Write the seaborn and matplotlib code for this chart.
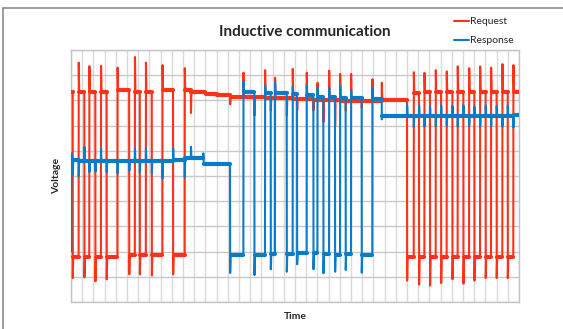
import matplotlib
matplotlib.use("Agg")
import matplotlib.pyplot as plt
from matplotlib.lines import Line2D
import pandas as pd
import seaborn as sns

# ---------------- data ----------------
SERIES = ["Request", "Response"]

# Request (red): edge times, segment levels (len = edges + 1), edge spike peaks
req_edges = [0.15, 0.68, 1.19, 1.63, 2.17, 2.67, 3.18, 4.15, 5.19, 5.70, 6.14, 6.68,
             7.21, 8.16, 9.11, 10.15, 10.7, 12.0, 13.0, 14.2, 15.39, 16.37, 17.32,
             17.83, 18.21, 19.26, 19.79, 20.18, 21.04, 21.64, 22.0, 22.53, 23.04,
             23.57, 24.02, 24.52, 25.0, 25.95, 26.9, 27.74, 30.0, 30.6, 31.07,
             31.55, 32.05, 32.56, 33.04, 33.54, 34.05, 34.52, 35.03, 35.54, 36.01,
             36.52, 37.02, 37.5, 38.0, 38.51, 38.99, 39.49]
req_levels = [8.35, 1.8, 8.35, 1.8, 8.35, 1.8, 8.35, 1.8, 8.4, 1.85, 8.35, 1.85,
              8.35, 1.85, 8.4, 1.85, 8.4, 8.35, 8.25, 8.2, 8.15, 8.15, 8.12, 8.1,
              8.1, 8.1, 8.08, 8.05, 8.05, 8.05, 8.03, 8.02, 8.0, 8.0, 8.0, 7.98,
              7.98, 7.97, 7.97, 7.96, 8.02, 1.8, 8.3, 1.8, 8.35, 1.8, 8.35, 1.8,
              8.35, 1.8, 8.35, 1.8, 8.35, 1.8, 8.35, 1.8, 8.35, 1.8, 8.35, 1.8,
              8.35]
req_spikes = [0.95, 9.5, 0.98, 9.36, 0.82, 9.37, 0.9, 9.3, 1.1, 9.72, 1.1, 9.5,
              1.05, 9.4, 1.1, 9.28, 7.5, 8.25, 8.2, 7.85, 9.1, 7.4, 9.2, 7.6, 8.9,
              7.4, 9.25, 7.6, 9.1, 7.6, 8.7, 7.15, 9.18, 6.96, 9.05, 7.6, 9.05,
              7.7, 8.84, 8.7, 0.85, 9.12, 0.69, 9.09, 0.65, 9.2, 0.75, 9.15, 0.9,
              9.35, 0.73, 9.28, 0.85, 9.35, 0.95, 9.3, 0.95, 9.44, 0.95, 9.4]

# Response (blue)
resp_edges = [0.02, 0.15, 0.68, 1.19, 1.63, 2.17, 2.67, 3.18, 4.15, 5.19, 5.70,
              6.14, 6.68, 7.21, 8.16, 9.11, 10.15, 10.7, 11.8, 14.2, 15.39, 16.37,
              17.32, 17.83, 18.21, 19.26, 19.79, 20.18, 21.04, 21.64, 22.0, 22.53,
              23.04, 23.57, 24.02, 24.52, 25.0, 25.95, 26.9, 27.74, 30.0, 30.6,
              31.07, 31.55, 32.05, 32.56, 33.04, 33.54, 34.05, 34.52, 35.03, 35.54,
              36.01, 36.52, 37.02, 37.5, 38.0, 38.51, 38.99, 39.49]
resp_levels = [2.0, 5.62, 5.62, 5.6, 5.6, 5.6, 5.6, 5.58, 5.6, 5.6, 5.58, 5.6,
               5.6, 5.58, 5.6, 5.58, 5.62, 5.7, 5.72, 5.48, 1.85, 8.35, 1.85, 8.3,
               1.9, 8.3, 1.9, 8.25, 1.95, 8.2, 1.95, 8.15, 1.9, 8.15, 1.85, 8.1,
               1.9, 8.1, 1.85, 8.05, 7.4, 7.4, 7.4, 7.38, 7.4, 7.38, 7.4, 7.38,
               7.4, 7.38, 7.4, 7.38, 7.4, 7.38, 7.4, 7.38, 7.4, 7.38, 7.4, 7.38,
               7.42]
resp_spikes = [5.9, 5.05, 5.0, 6.16, 5.15, 5.17, 6.1, 5.15, 5.1, 5.2, 6.1, 5.15,
               6.1, 5.1, 4.9, 6.1, 4.95, 6.16, 5.9, 1.15, 8.75, 1.07, 8.6, 1.3,
               8.7, 1.2, 8.55, 1.5, 8.6, 1.3, 8.5, 1.14, 8.5, 1.2, 8.6, 1.27,
               8.4, 1.16, 8.5, 7.25, 7.8, 6.95, 7.8, 6.96, 7.75, 6.98, 7.8, 7.0,
               7.78, 6.96, 7.8, 7.0, 7.75, 6.95, 7.8, 6.98, 7.78, 6.96, 7.8, 6.92]

X_RANGE = [0, 40]
Y_RANGE = [0, 10]
TITLE = "Inductive communication"
X_LABEL = "Time"
Y_LABEL = "Voltage"

# ---------------- styles ----------------
RED = "#FF3118"
BLUE = "#0A7BC6"
SETTLE = 0.05
W, H = 563, 329


def waveform(name, edges, levels, spikes, x0, x1):
    xs, ys = [x0], [levels[0]]
    for t, s, lp, ln in zip(edges, spikes, levels[:-1], levels[1:]):
        xs += [t, t + 0.012, t + SETTLE]
        ys += [lp, s, ln]
    xs.append(x1)
    ys.append(levels[-1])
    return pd.DataFrame({"x": xs, "y": ys, "series": name})


def plateaus(name, edges, levels, x0, x1):
    starts = [x0] + [e + SETTLE for e in edges]
    ends = list(edges) + [x1]
    rows = []
    for i, (a, b, lv) in enumerate(zip(starts, ends, levels)):
        if b > a:
            rows += [{"x": a, "y": lv, "seg": i, "series": name},
                     {"x": b, "y": lv, "seg": i, "series": name}]
    return pd.DataFrame(rows)


wave = pd.concat([
    waveform(SERIES[0], req_edges, req_levels, req_spikes, *X_RANGE),
    waveform(SERIES[1], resp_edges, resp_levels, resp_spikes, *X_RANGE),
], ignore_index=True)
bands = {
    SERIES[0]: plateaus(SERIES[0], req_edges, req_levels, *X_RANGE),
    SERIES[1]: plateaus(SERIES[1], resp_edges, resp_levels, *X_RANGE),
}

sns.set_style("white")
plt.rcParams["font.family"] = ["Lato", "DejaVu Sans"]

fig = plt.figure(figsize=(W / 100, H / 100), dpi=100)
ax = fig.add_axes([71 / W, 1 - 302 / H, (519 - 71) / W, (302 - 50) / H])

palette = {SERIES[0]: RED, SERIES[1]: BLUE}
for name in SERIES:
    z = 3 if name == SERIES[0] else 5
    sns.lineplot(data=bands[name], x="x", y="y", units="seg", estimator=None,
                 color=palette[name], lw=3.0, sort=False, ax=ax, legend=False,
                 zorder=z)
    sns.lineplot(data=wave[wave.series == name], x="x", y="y", estimator=None,
                 color=palette[name], lw=1.5, sort=False, ax=ax, legend=False,
                 zorder=z)

ax.set_xlim(*X_RANGE)
ax.set_ylim(*Y_RANGE)
ax.set_xticks(range(X_RANGE[0], X_RANGE[1] + 1))
ax.set_yticks(range(Y_RANGE[0], Y_RANGE[1] + 1))
ax.set_xticklabels([])
ax.set_yticklabels([])
ax.tick_params(length=0)
ax.xaxis.grid(True, color="#dadada", lw=1.0)
ax.yaxis.grid(True, color="#c8c8c8", lw=1.0)
ax.set_axisbelow(True)
for sp in ax.spines.values():
    sp.set_color("#c4c4c4")
    sp.set_linewidth(1.0)

ax.set_xlabel(X_LABEL, fontsize=7.5, fontweight="bold", labelpad=4)
ax.set_ylabel(Y_LABEL, fontsize=7.5, fontweight="bold", labelpad=4)

fig.text(304.5 / W, 1 - 32 / H, TITLE, ha="center", va="center",
         fontsize=11, fontweight="bold")

handles = [Line2D([], [], color=RED, lw=1.5), Line2D([], [], color=BLUE, lw=1.5)]
fig.legend(handles, SERIES, loc="upper left", bbox_to_anchor=(454 / W, 1 - 17 / H),
           frameon=False, fontsize=7.5, handlelength=1.4, handletextpad=0.15,
           labelspacing=0.95, borderpad=0, borderaxespad=0)

# outer chart-area border (top and left visible)
fig.add_artist(Line2D([3 / W, 1], [1 - 7.5 / H, 1 - 7.5 / H], transform=fig.transFigure,
                      color="#8c8c8c", lw=1.2))
fig.add_artist(Line2D([3 / W, 3 / W], [0, 1 - 7.5 / H], transform=fig.transFigure,
                      color="#8c8c8c", lw=1.2))

fig.savefig("out.png", dpi=100)
